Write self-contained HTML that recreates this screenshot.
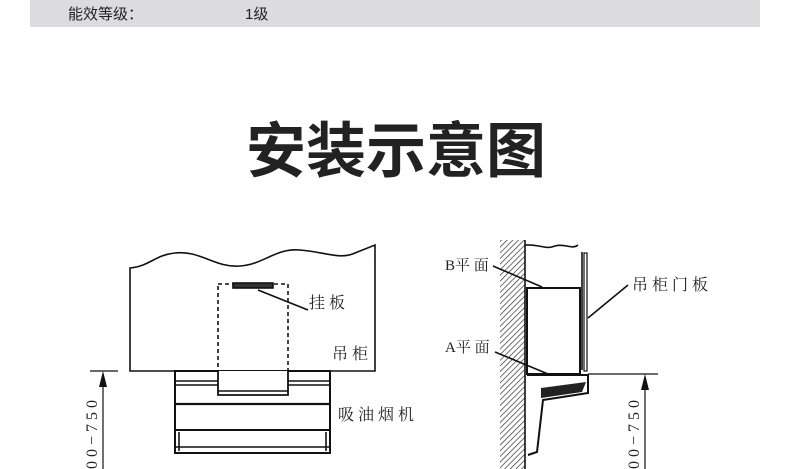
<!DOCTYPE html>
<html><head><meta charset="utf-8"><style>
html,body{margin:0;padding:0;background:#fff}
body{width:790px;height:469px;overflow:hidden;position:relative}
svg{position:absolute;left:0;top:0}
text{font-family:"Liberation Serif","Noto Serif CJK SC",serif;fill:#222}
</style></head><body>
<svg width="790" height="469" viewBox="0 0 790 469">
<defs>
<pattern id="h" width="4" height="4" patternUnits="userSpaceOnUse" patternTransform="rotate(45)">
<rect width="4" height="4" fill="#fff"/><line x1="0" y1="0" x2="0" y2="4" stroke="#333" stroke-width="1.4"/>
</pattern>
</defs>
<rect x="30" y="0" width="730" height="27" fill="#dcdbde"/>
<text x="68" y="19" font-size="15" style="font-family:'Liberation Sans','Noto Sans CJK SC',sans-serif" fill="#333">能效等级：</text>
<text x="245" y="19" font-size="15" style="font-family:'Liberation Sans','Noto Sans CJK SC',sans-serif" fill="#333">1级</text>
<text x="396" y="172" font-size="60" font-weight="bold" text-anchor="middle" style="font-family:'Liberation Sans','Noto Sans CJK SC',sans-serif" fill="#1a1a1a">安装示意图</text>

<g fill="none" stroke="#111" stroke-width="1.6">
<path d="M130,371 L130,268 C150,266 155,255 175,253 C200,250 215,268 240,266 C265,264 275,248 300,250 C325,252 340,260 355,253 C365,249 370,247 375,245 L375,371 Z"/>
<rect x="218" y="284" width="70" height="87" stroke-dasharray="4,3"/>
<rect x="233" y="283" width="40" height="5" fill="#333"/>
<line x1="258" y1="290" x2="308" y2="310"/>
<rect x="175" y="371" width="155" height="82" stroke-width="2"/>
<line x1="175" y1="381" x2="330" y2="381"/>
<line x1="175" y1="385" x2="330" y2="385"/>
<line x1="175" y1="404" x2="330" y2="404" stroke-width="2.2"/>
<line x1="175" y1="430" x2="330" y2="430" stroke-width="2"/>
<line x1="175" y1="447" x2="330" y2="447"/>
<line x1="179" y1="432" x2="179" y2="451"/>
<line x1="326" y1="432" x2="326" y2="451"/>
<path d="M218,371 L218,395 L288,395 L288,371" fill="#fff" stroke-width="1.8"/>
<line x1="218" y1="391" x2="288" y2="391"/>
<line x1="90" y1="371" x2="118" y2="371" stroke-width="1.2"/>
<line x1="103" y1="385" x2="103" y2="469" stroke-width="1.2"/>
</g>
<polygon points="103,371 99,387 107,387" fill="#111"/>
<text x="309" y="308" font-size="16">挂 板</text>
<text x="332" y="359" font-size="16">吊 柜</text>
<text x="338" y="420" font-size="16">吸 油 烟 机</text>
<text transform="translate(97,469) rotate(-90)" font-size="16" letter-spacing="4">00−750</text>

<rect x="500" y="240" width="25" height="229" fill="url(#h)"/>
<g fill="none" stroke="#111" stroke-width="1.6">
<line x1="525" y1="240" x2="525" y2="469"/>
<path d="M525,245 C540,244 545,250 555,246 C565,243 572,250 578,245"/>
<line x1="582" y1="252" x2="582" y2="370"/>
<rect x="584" y="253" width="3" height="118" stroke-width="1.2"/>
<rect x="527" y="288" width="53" height="86" stroke-width="2"/>
<line x1="527" y1="375" x2="588" y2="375" stroke-width="2"/>
<line x1="588" y1="374" x2="658" y2="374" stroke-width="1.2"/>
<path d="M527,375 L588,375 L588,393 L543,400 L537,452 L528,455" stroke-width="2"/>
<line x1="493" y1="266" x2="542" y2="287"/>
<line x1="495" y1="352" x2="548" y2="374"/>
<line x1="628" y1="285" x2="588" y2="318"/>
<line x1="645" y1="388" x2="645" y2="469" stroke-width="1.2"/>
</g>
<polygon points="541,388 586,382 582,392 541,398" fill="#222"/>
<polygon points="645,374 641,390 649,390" fill="#111"/>
<text x="445" y="270" font-size="15">B平 面</text>
<text x="445" y="352" font-size="15">A平 面</text>
<text x="632" y="290" font-size="16">吊 柜 门 板</text>
<text transform="translate(639,469) rotate(-90)" font-size="16" letter-spacing="4">00−750</text>
</svg>
</body></html>
